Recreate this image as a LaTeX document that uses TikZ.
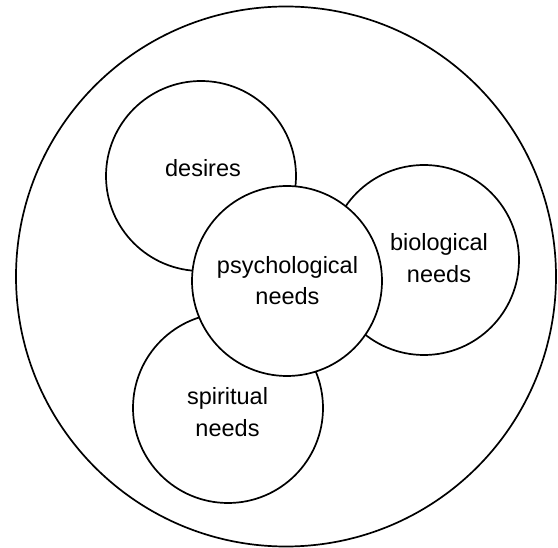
\documentclass[tikz,border=0pt]{standalone}
\usepackage{fontspec}
\setmainfont{Liberation Sans}
\usepackage{tikz}
\usetikzlibrary{positioning}

\begin{document}
\begin{tikzpicture}[x=1pt, y=-1pt,
    need/.style={draw, circle, fill=white, line width=1.7pt, inner sep=0pt, outer sep=0pt, minimum size=190pt},
    word/.style={align=center, inner sep=0pt, font=\fontsize{23.5}{31.5}\selectfont}]
                                \useasboundingbox (0, 0) rectangle (558, 548);

                                \node[need, minimum size=540pt] (self) at (286, 276.5) {};
                                \node[need] (des) at (201, 176) {};
                                \node[need] (bio) at (424, 260) {};
                                \node[need] (spi) at (228, 408) {};
                                \node[need] (psy) at (287, 281) {};

                                \node[word] (desl) at (203, 168.5) {desires};
                                \node[word] (psyl) at (287.5, 280.5) {psychological\\needs};
                                \node[word] (biol) at (439, 258) {biological\\needs};
                                \node[word] (spil) at (227.5, 412) {spiritual\\needs};
                            \end{tikzpicture}
\end{document}
